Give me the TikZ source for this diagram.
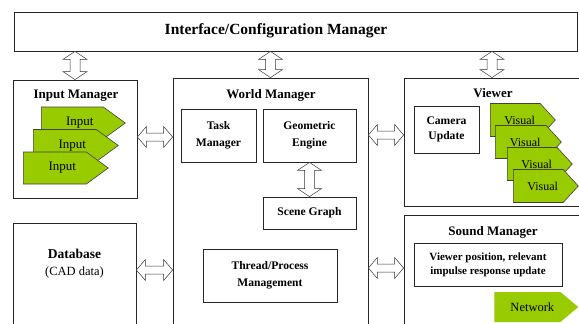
\documentclass[tikz,border=0pt]{standalone}
\usepackage{fontspec}
\setmainfont{Liberation Serif}
\usetikzlibrary{%
    shapes.symbols,%
    calc
}
\definecolor{leaf}{RGB}{153,204,0}

\begin{document}
\begin{tikzpicture}[x=1pt,y=-1pt,
    box/.style={draw=black!85,fill=white,inner sep=0pt,line width=0.8pt},
    inbox/.style={box,align=center,font=\fontsize{11.6}{16.5}\selectfont\bfseries},
    title/.style={inner sep=0pt,font=\fontsize{13}{15}\selectfont\bfseries},
    sig/.style={signal,signal to=east,draw=black!75,fill=leaf,inner sep=0pt,line width=0.6pt},
    varrow/.style={draw=black!80,fill=white,line width=0.5pt,to path={
        let \p1=(\tikztostart),\p2=(\tikztotarget) in
        (\x1,\y1) -- (\x1-12pt,\y1-8pt) -- (\x1-5pt,\y1-8pt) -- (\x1-5pt,\y2+8pt)
        -- (\x1-12pt,\y2+8pt) -- (\x1,\y2) -- (\x1+12pt,\y2+8pt) -- (\x1+5pt,\y2+8pt)
        -- (\x1+5pt,\y1-8pt) -- (\x1+12pt,\y1-8pt) -- cycle}},
    harrow/.style={draw=black!80,fill=white,line width=0.5pt,to path={
        let \p1=(\tikztostart),\p2=(\tikztotarget) in
        (\x1,\y1) -- (\x1+9pt,\y1+10.5pt) -- (\x1+9pt,\y1+4pt) -- (\x2-9pt,\y1+4pt)
        -- (\x2-9pt,\y1+10.5pt) -- (\x2,\y1) -- (\x2-9pt,\y1-10.5pt) -- (\x2-9pt,\y1-4pt)
        -- (\x1+9pt,\y1-4pt) -- (\x1+9pt,\y1-10.5pt) -- cycle}}
]
\useasboundingbox (0,0) rectangle (579,324);
\clip (0,0) rectangle (579,324);

\node[box,minimum width=563pt,minimum height=39pt] (iface) at (295.5,31.5) {};
\node[inner sep=0pt,font=\fontsize{15.5}{18}\selectfont\bfseries] (ifacetext) at (276,31) {Interface/Configuration Manager};

% input manager
\node[box,minimum width=124pt,minimum height=118pt] (inmgr) at (75,139) {};
\node[title] (inmgrtitle) at (76,96) {Input Manager};
\foreach \i/\x/\y/\w in {1/41/123/84,2/33/145.5/85,3/23/168/85}
    \node[sig,minimum width=\w pt,minimum height=32pt,signal pointer angle=72,anchor=west,font=\fontsize{13}{15}\selectfont] (in\i) at (\x,\y) {\hspace*{15pt}Input};

% world manager
\node[box,minimum width=195pt,minimum height=252pt] (world) at (270.5,204) {};
\node[title] (worldtitle) at (271,95) {World Manager};
\node[inbox,minimum width=75pt,minimum height=53pt] (task) at (218.5,135.5) {Task\\Manager};
\node[inbox,minimum width=93pt,minimum height=53pt] (geom) at (309.5,135.5) {Geometric\\Engine};
\node[inbox,minimum width=93pt,minimum height=32pt] (scene) at (309.5,213) {Scene Graph};
\node[inbox,minimum width=134pt,minimum height=53pt] (thread) at (270,275.5) {Thread/Process\\Management};

% viewer
\node[box,minimum width=176pt,minimum height=128pt] (viewer) at (492,142) {};
\node[title] (viewertitle) at (493,93) {Viewer};
\node[inbox,minimum width=65pt,minimum height=47pt,font=\fontsize{11.6}{15}\selectfont\bfseries] (camera) at (446.5,129.5) {Camera\\Update};
\foreach \i/\x/\y/\w in {1/490/120/65,2/495/142/66,3/507/164/65,4/513/186/65}
    \node[sig,minimum width=\w pt,minimum height=33pt,signal pointer angle=95,anchor=west,font=\fontsize{12}{14}\selectfont] (vis\i) at (\x,\y) {\hspace*{9pt}Visual};

% sound manager
\node[box,minimum width=176pt,minimum height=115pt] (sound) at (492,272.5) {};
\node[title] (soundtitle) at (493,232) {Sound Manager};
\node[inbox,minimum width=148pt,minimum height=43pt,font=\fontsize{11}{14}\selectfont\bfseries] (vpos) at (488,264.5) {Viewer position, relevant\\impulse response update};
\node[sig,draw=none,minimum width=84pt,minimum height=30pt,signal pointer angle=80,anchor=west,font=\fontsize{12.5}{14}\selectfont] (net) at (494,307) {\hspace*{10pt}Network};

% database
\node[box,minimum width=123pt,minimum height=107pt] (db) at (74.5,276.5) {};
\node[inner sep=0pt,align=center,font=\fontsize{12.5}{17}\selectfont] (dbtext) at (74.5,263.5) {{\bfseries\fontsize{13.5}{17}\selectfont Database}\\(CAD data)};

\draw[varrow] (iface.south -| inmgr.north) to (inmgr.north);
\draw[varrow] (iface.south -| world.north) to (world.north);
\draw[varrow] (iface.south -| viewer.north) to (viewer.north);
\draw[varrow] (geom.south) to (scene.north);

\draw[harrow] (inmgr.east |- 0,137) to (world.west |- 0,137);
\draw[harrow] (world.east |- 0,135) to (viewer.west |- 0,135);
\draw[harrow] (db.east |- 0,270) to (world.west |- 0,270);
\draw[harrow] (world.east |- 0,268) to (sound.west |- 0,268);

\end{tikzpicture}
\end{document}
